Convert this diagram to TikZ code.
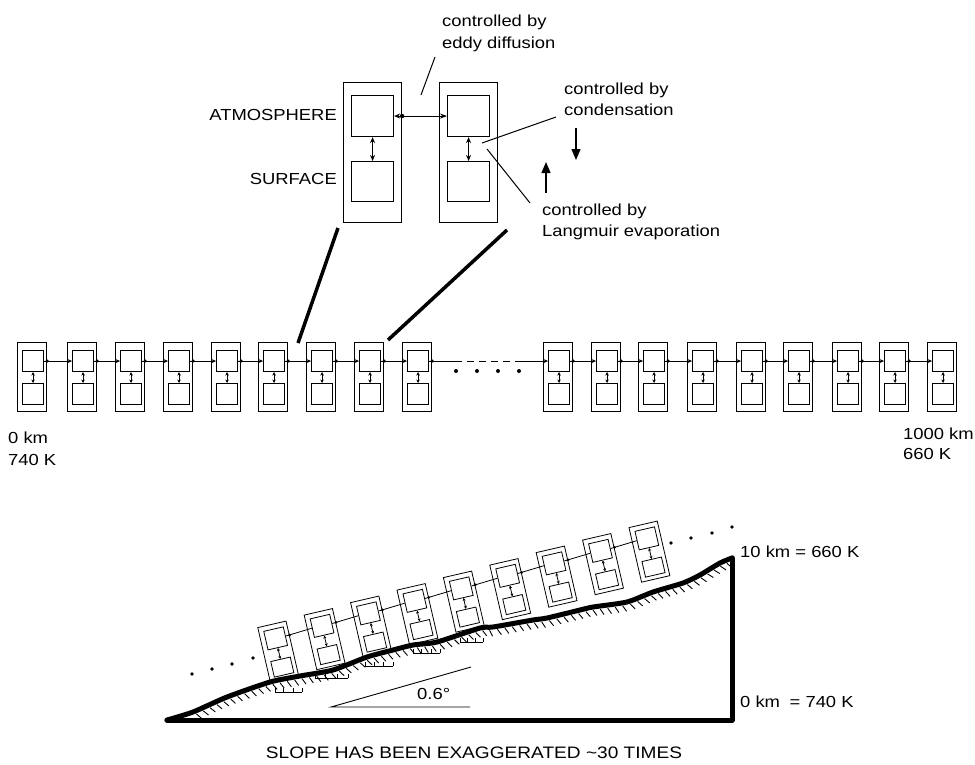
\documentclass[tikz,border=0pt]{standalone}
\usepackage{fontspec}
\setmainfont{Liberation Sans}[FakeStretch=1.15]
\usetikzlibrary{arrows.meta,calc,decorations.markings}
\begin{document}
\begin{tikzpicture}[x=1pt,y=-1pt,
  lab/.style={font=\fontsize{16}{19}\selectfont, inner sep=0pt},
  bx/.style={draw, line width=1.1pt, inner sep=0pt, anchor=north west},
  tbx/.style={draw, line width=0.8pt, inner sep=0pt, anchor=north west},
  dbl/.style={line width=1pt, {Stealth[length=6pt,width=5pt]}-{Stealth[length=6pt,width=5pt]}},
  sdbl/.style={line width=1pt, {Stealth[length=3.5pt,width=3.5pt]}-{Stealth[length=3.5pt,width=3.5pt]}},
  tdbl/.style={line width=0.8pt, {Stealth[length=3pt,width=3pt]}-{Stealth[length=3pt,width=3pt]}},
  conn/.style={line width=1pt, -{Stealth[length=4.5pt,width=4pt]}},
  tconn/.style={line width=0.8pt},
  pointer/.style={line width=1pt},
  thickln/.style={line width=3.5pt},
  ground/.style={line width=5pt, line join=round, line cap=round}
]
\useasboundingbox (0,0) rectangle (975,764);

% ---------- detail of two cells ----------
\node[bx, minimum width=58pt, minimum height=140pt] (Lo) at (343,82) {};
\node[bx, minimum width=42pt, minimum height=41pt] (Lt) at (351,95) {};
\node[bx, minimum width=42pt, minimum height=40pt] (Lb) at (351,161) {};
\node[bx, minimum width=58pt, minimum height=140pt] (Ro) at (439,82) {};
\node[bx, minimum width=42pt, minimum height=41pt] (Rt) at (447,95) {};
\node[bx, minimum width=42pt, minimum height=40pt] (Rb) at (447,161) {};
\draw[dbl] (Lt.south) -- (Lb.north);
\draw[dbl] (Rt.south) -- (Rb.north);
\draw[line width=1pt, {Stealth[length=6pt,width=5pt]}-{Stealth[length=7pt,width=5pt]}] (Lt.east) -- (Rt.west);
\fill ($(Lt.east)!8pt!(Rt.west)$) circle (2.2pt);

\node[lab, anchor=base east] (atm) at (337,120) {ATMOSPHERE};
\node[lab, anchor=base east] (surf) at (337,184) {SURFACE};
\node[lab, anchor=base west] (e1) at (442,26) {controlled by};
\node[lab, anchor=base west] (e2) at (442,48) {eddy diffusion};
\node[lab, anchor=base west] (c1) at (564,94) {controlled by};
\node[lab, anchor=base west] (c2) at (564,115) {condensation};
\node[lab, anchor=base west] (l1) at (542,215) {controlled by};
\node[lab, anchor=base west] (l2) at (542,236) {Langmuir evaporation};

\coordinate (pe1) at (435,57);  \coordinate (pe2) at (421,95);
\coordinate (pc1) at (556,117); \coordinate (pc2) at (482,143);
\coordinate (pl1) at (487,149); \coordinate (pl2) at (530,203);
\draw[pointer] (pe1) -- (pe2);
\draw[pointer] (pc1) -- (pc2);
\draw[pointer] (pl1) -- (pl2);

\coordinate (dn1) at (576,128); \coordinate (dn2) at (576,160);
\coordinate (up1) at (546,193); \coordinate (up2) at (546,162);
\draw[line width=1.3pt, -{Triangle[length=11pt,width=9pt]}] (dn1) -- (dn2);
\draw[line width=1.3pt, -{Triangle[length=11pt,width=9pt]}] (up1) -- (up2);

\coordinate (z1a) at (338,228); \coordinate (z1b) at (298,343);
\coordinate (z2a) at (507,230); \coordinate (z2b) at (388,340);
\draw[thickln] (z1a) -- (z1b);
\draw[thickln] (z2a) -- (z2b);

% ---------- chain of cells ----------
\foreach \x [count=\k] in {17,67,115,163,211,258,306,354,402,543,591,638,687,736,783,832,879,927} {
  \node[bx, minimum width=29pt, minimum height=69pt] (mo\k) at (\x,342) {};
  \node[bx, minimum width=21pt, minimum height=21pt] (mt\k) at ({\x+5},350) {};
  \node[bx, minimum width=21pt, minimum height=21pt] (mb\k) at ({\x+5},383) {};
  \draw[sdbl] (mt\k.south) -- (mb\k.north);
}
\foreach \k in {1,...,8,10,11,...,17} {
  \pgfmathtruncatemacro\j{\k+1}
  \draw[conn] (mt\k.east) -- (mt\j.west);
  \fill ($(mt\k.east)!3pt!(mt\j.west)$) circle (1.8pt);
}
\coordinate (gapA) at ($(mt9.east)+(26,0)$);
\coordinate (gapB) at ($(mt10.west)+(-32,0)$);
\draw[line width=1pt] (mt9.east) -- (gapA);
\draw[line width=1pt, dash pattern=on 7pt off 5pt] (gapA) -- (gapB);
\draw[conn] (gapB) -- (mt10.west);
\fill ($(mt9.east)!3pt!(mt10.west)$) circle (1.8pt);
\foreach \x in {456,477,498,519} \fill (\x,371) circle (2pt);

\node[lab, anchor=base west] (km0) at (8,443) {0 km};
\node[lab, anchor=base west] (k740) at (8,465) {740 K};
\node[lab, anchor=base west] (km1000) at (903,439) {1000 km};
\node[lab, anchor=base west] (k660) at (903,459) {660 K};

% ---------- slope ----------
\draw[ground] (732,558) -- (732,720) -- (167,720);
\draw[ground, postaction={decorate, decoration={markings,
   mark=between positions 0.05 and 0.99 step 7.5pt with {\draw[line width=0.9pt, line cap=butt] (0pt,-3pt) -- (3pt,-9pt);}}}]
  plot[smooth, tension=0.4] coordinates {(167,720) (193,712) (227,697) (270,682) (300,676) (333,670) (367,657) (393,650) (413,645) (437,642) (480,628) (493,627) (533,620) (547,618) (580,610) (593,607) (627,602) (653,592) (683,583) (700,575) (720,563) (732,558)};

\foreach \a/\b/\y in {275/302/692, 315/348/678, 365/393/666, 413/440/653, 460/483/642} {
  \draw[line width=0.9pt] (\a,\y) -- (\b,\y);
  \foreach \t in {0,0.33,0.67,1} \draw[line width=0.9pt] ({\a+(\b-\a)*\t},\y) -- ++(0,-4);
}

\foreach \i in {0,...,8} {
  \begin{scope}[shift={({257.3+46.4*\i},{627.3-12.5*\i})}, rotate=13, transform shape]
    \node[tbx, minimum width=29pt, minimum height=56pt] (so\i) at (0,0) {};
    \node[tbx, minimum width=20pt, minimum height=19pt] (st\i) at (5,5) {};
    \node[tbx, minimum width=20pt, minimum height=16pt] (sb\i) at (5,36) {};
    \draw[tdbl] (st\i.south) -- (sb\i.north);
  \end{scope}
}
\foreach \i in {0,...,7} {
  \pgfmathtruncatemacro\j{\i+1}
  \draw[tconn] (st\i.east) -- (st\j.west);
  \fill ($(st\i.east)!4pt!(st\j.west)$) circle (1.5pt);
}
\foreach \x/\y in {192/674, 212/669, 232/664, 253/658, 671/543, 691/538, 712/533, 732/527}
  \fill (\x,\y) circle (1.8pt);

\coordinate (ang0) at (331,707);
\coordinate (ang1) at (470,707);
\coordinate (ang2) at (471,667);
\draw[line width=0.9pt] (ang1) -- (ang0) -- (ang2);
\node[lab, anchor=base west] (deg) at (417,699) {0.6°};

\node[lab, anchor=base west] (top) at (740,557) {10 km = 660 K};
\node[lab, anchor=base west] (bot) at (740,707) {0 km\hspace{0.6em}= 740 K};
\node[lab, font=\fontsize{16.6}{19}\selectfont, anchor=base] (cap) at (474,758) {SLOPE HAS BEEN EXAGGERATED \textasciitilde30 TIMES};
\end{tikzpicture}
\end{document}
